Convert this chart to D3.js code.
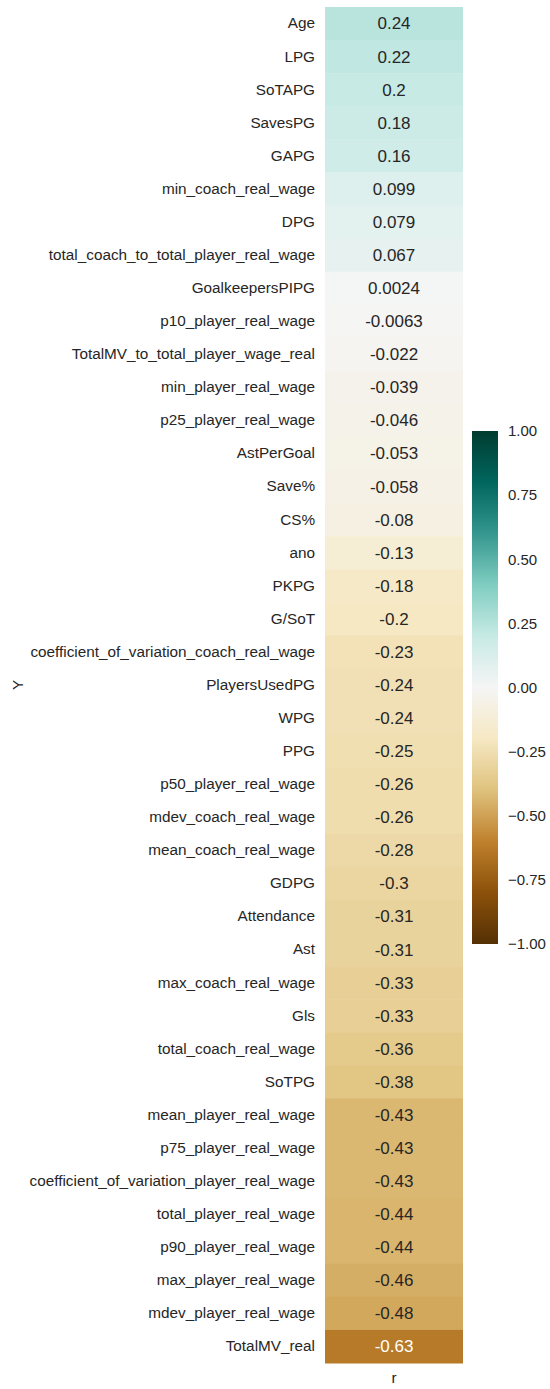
<!DOCTYPE html>
<html>
<head>
<meta charset="utf-8">
<script src="https://cdn.jsdelivr.net/npm/d3@7"></script>
<style>
  body { margin: 0; background: #fff; }
  svg { font-family: "Liberation Sans", Arial, sans-serif; }
</style>
</head>
<body>
<div id="chart"></div>
<script>
let features = ['Age', 'LPG', 'SoTAPG', 'SavesPG', 'GAPG', 'min_coach_real_wage', 'DPG',
  'total_coach_to_total_player_real_wage', 'GoalkeepersPIPG', 'p10_player_real_wage',
  'TotalMV_to_total_player_wage_real', 'min_player_real_wage', 'p25_player_real_wage',
  'AstPerGoal', 'Save%', 'CS%', 'ano', 'PKPG', 'G/SoT', 'coefficient_of_variation_coach_real_wage',
  'PlayersUsedPG', 'WPG', 'PPG', 'p50_player_real_wage', 'mdev_coach_real_wage',
  'mean_coach_real_wage', 'GDPG', 'Attendance', 'Ast', 'max_coach_real_wage', 'Gls',
  'total_coach_real_wage', 'SoTPG', 'mean_player_real_wage', 'p75_player_real_wage',
  'coefficient_of_variation_player_real_wage', 'total_player_real_wage', 'p90_player_real_wage',
  'max_player_real_wage', 'mdev_player_real_wage', 'TotalMV_real']

let rValues = [0.24, 0.22, 0.2, 0.18, 0.16, 0.099, 0.079, 0.067, 0.0024, -0.0063,
  -0.022, -0.039, -0.046, -0.053, -0.058, -0.08, -0.13, -0.18, -0.2, -0.23,
  -0.24, -0.24, -0.25, -0.26, -0.26, -0.28, -0.3, -0.31, -0.31, -0.33, -0.33,
  -0.36, -0.38, -0.43, -0.43, -0.43, -0.44, -0.44, -0.46, -0.48, -0.63]

let columns = ['r']
let colorTicks = [-1, -0.75, -0.5, -0.25, 0, 0.25, 0.5, 0.75, 1]

// BrBG as matplotlib builds it (11 colorbrewer stops, linear)
let brbg = ['#543005', '#8c510a', '#bf812d', '#dfc27d', '#f6e8c3', '#f5f5f5',
  '#c7eae5', '#80cdc1', '#35978f', '#01665e', '#003c30']

let width = 550
let height = 1389
let hmLeft = 325, hmRight = 463, hmTop = 7, hmBottom = 1363

let svg = d3.select('#chart')
  .append('svg')
  .attr('width', width)
  .attr('height', height)

let color = d3.scaleLinear()
  .domain(d3.range(11).map(i => -1 + i * 0.2))
  .range(brbg)
  .interpolate(d3.interpolateRgb)
  .clamp(true)

let x = d3.scaleBand().domain(columns).range([hmLeft, hmRight])
let y = d3.scaleBand().domain(features).range([hmTop, hmBottom])

let rows = features.map((f, i) => ({ name: f, col: 'r', value: rValues[i] }))

svg.selectAll('rect.cell')
  .data(rows)
  .enter()
  .append('rect')
  .attr('class', 'cell')
  .attr('x', d => x(d.col))
  .attr('y', d => y(d.name))
  .attr('width', x.bandwidth())
  .attr('height', y.bandwidth() + 0.5)
  .attr('fill', d => color(d.value))

function luminance(c) {
  let rgb = d3.rgb(c)
  let f = v => { v = v / 255; return v <= 0.03928 ? v / 12.92 : Math.pow((v + 0.055) / 1.055, 2.4) }
  return 0.2126 * f(rgb.r) + 0.7152 * f(rgb.g) + 0.0722 * f(rgb.b)
}

svg.selectAll('text.annot')
  .data(rows)
  .enter()
  .append('text')
  .attr('class', 'annot')
  .attr('x', d => x(d.col) + x.bandwidth() / 2)
  .attr('y', d => y(d.name) + y.bandwidth() / 2)
  .attr('text-anchor', 'middle')
  .attr('dy', '0.35em')
  .style('font-size', '17px')
  .style('fill', d => luminance(color(d.value)) < 0.408 ? '#ffffff' : '#262626')
  .text(d => String(d.value))

// axes
let yAxis = svg.append('g')
  .attr('transform', `translate(${hmLeft},0)`)
  .call(d3.axisLeft(y).tickSize(0).tickPadding(10))
yAxis.select('.domain').remove()
yAxis.selectAll('text').style('font-size', '15.3px').style('fill', '#262626')

let xAxis = svg.append('g')
  .attr('transform', `translate(0,${hmBottom})`)
  .call(d3.axisBottom(x).tickSize(0).tickPadding(9))
xAxis.select('.domain').remove()
xAxis.selectAll('text').style('font-size', '15.3px').style('fill', '#262626')

svg.append('text')
  .attr('transform', `translate(18,${(hmTop + hmBottom) / 2}) rotate(-90)`)
  .attr('text-anchor', 'middle')
  .attr('dy', '0.35em')
  .style('font-size', '15.3px')
  .style('fill', '#262626')
  .text('Y')

// colorbar
let cbX = 472, cbW = 26, cbTop = 431, cbBottom = 944
let cbScale = d3.scaleLinear().domain([-1, 1]).range([cbBottom, cbTop])

let defs = svg.append('defs')
let grad = defs.append('linearGradient')
  .attr('id', 'cbgrad')
  .attr('x1', '0').attr('y1', '1').attr('x2', '0').attr('y2', '0')
grad.selectAll('stop')
  .data(d3.range(11))
  .enter()
  .append('stop')
  .attr('offset', d => d / 10)
  .attr('stop-color', d => brbg[d])

svg.append('rect')
  .attr('x', cbX)
  .attr('y', cbTop)
  .attr('width', cbW)
  .attr('height', cbBottom - cbTop)
  .attr('fill', 'url(#cbgrad)')

let cbAxis = svg.append('g')
  .attr('transform', `translate(${cbX + cbW},0)`)
  .call(d3.axisRight(cbScale).tickValues(colorTicks).tickFormat(d3.format('.2f')).tickSize(0).tickPadding(10))
cbAxis.select('.domain').remove()
cbAxis.selectAll('text').style('font-size', '15px').style('fill', '#262626')
</script>
</body>
</html>
